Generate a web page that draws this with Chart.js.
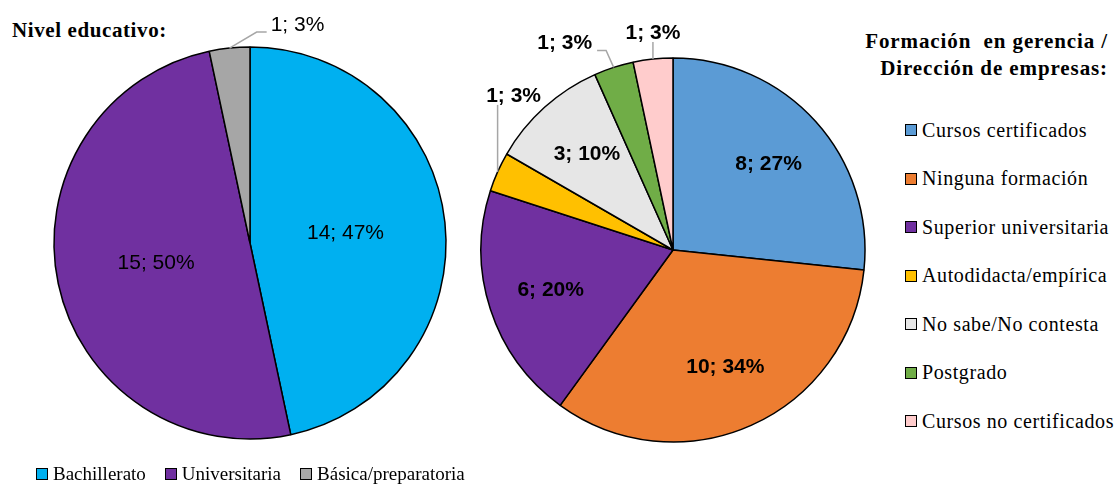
<!DOCTYPE html>
<html>
<head>
<meta charset="utf-8">
<script src="https://cdn.jsdelivr.net/npm/chart.js@4.4.1/dist/chart.umd.min.js"></script>
<style>
  html, body { margin: 0; padding: 0; background: #fff; }
  #page { position: relative; width: 1115px; height: 485px; overflow: hidden; }
  .box { position: absolute; }
  .title { position: absolute; font-family: "Liberation Serif", serif; font-weight: bold; font-size: 21px; color: #000; line-height: 27px; }
  .legend { position: absolute; font-family: "Liberation Serif", serif; color: #000; }
  .item { display: flex; align-items: center; white-space: nowrap; }
  .swatch { width: 10px; height: 10px; border: 1px solid #000; margin-right: 5px; flex: none; }
</style>
</head>
<body>
<div id="page">
  <div class="title" style="left:12px; top:17px; font-size:21px; letter-spacing:0.6px;">Nivel educativo:</div>
  <div class="title" style="right:7px; top:28px; text-align:right; letter-spacing:0.9px;">Formación&nbsp; en gerencia /<br>Dirección de empresas:</div>

  <div class="box" style="left:0; top:0; width:500px; height:486px;"><canvas id="nivel-chart"></canvas></div>
  <div class="box" style="left:473px; top:0; width:400px; height:500px;"><canvas id="formacion-chart"></canvas></div>

  <div class="legend" id="nivel-legend" style="left:36px; top:462px; font-size:19px; display:flex;"></div>
  <div class="legend" id="formacion-legend" style="left:905px; top:106px; font-size:20px; letter-spacing:0.6px;"></div>
</div>

<script>
// Nivel educativo
const nivelLabels = ['Bachillerato', 'Universitaria', 'Básica/preparatoria'];
const nivelValues = [14, 15, 1];
const nivelPercents = [47, 50, 3];
const nivelColors = ['#00B0F0', '#7030A0', '#A6A6A6'];

// Formación en gerencia / Dirección de empresas
const formacionLabels = ['Cursos certificados', 'Ninguna formación', 'Superior universitaria',
    'Autodidacta/empírica', 'No sabe/No contesta', 'Postgrado', 'Cursos no certificados'];
const formacionValues = [8, 10, 6, 1, 3, 1, 1];
const formacionPercents = [27, 34, 20, 3, 10, 3, 3];
const formacionColors = ['#5B9BD5', '#ED7D31', '#7030A0', '#FFC000', '#E6E6E6', '#70AD47', '#FFCCCC'];

/**
 * Draws "value; pct%" labels inside slices, or outside with a leader line
 */
const sliceLabels = {
    id: 'sliceLabels',
    afterDatasetsDraw(chart, args, opts) {
        const ctx = chart.ctx;
        const meta = chart.getDatasetMeta(0);
        const values = chart.data.datasets[0].data;
        ctx.save();
        ctx.font = opts.font;
        ctx.fillStyle = '#000';
        ctx.textAlign = 'center';
        ctx.textBaseline = 'middle';

        meta.data.forEach((arc, i) => {
            const p = arc.getProps(['x', 'y', 'startAngle', 'endAngle', 'outerRadius'], true);
            const mid = (p.startAngle + p.endAngle) / 2;
            const text = `${values[i]}; ${opts.percents[i]}%`;
            const callout = opts.callouts[i];

            if (!callout) {
                const d = p.outerRadius * opts.inside;
                ctx.fillText(text, p.x + Math.cos(mid) * d, p.y + Math.sin(mid) * d);
                return;
            }

            // edge point and text box
            const ex = p.x + Math.cos(mid) * p.outerRadius;
            const ey = p.y + Math.sin(mid) * p.outerRadius;
            const tx = ex + callout[0];
            const ty = ey + callout[1];
            const w = ctx.measureText(text).width;
            const bottom = ty + 7;

            ctx.strokeStyle = '#A6A6A6';
            ctx.lineWidth = 1.5;
            ctx.beginPath();
            ctx.moveTo(ex, ey);
            if (Math.abs(callout[0]) < w / 2) {
                ctx.lineTo(ex, bottom + 2);
            } else if (callout[0] > 0) {
                const ax = tx - w / 2 - 4;
                ctx.lineTo(ax - 10, bottom);
                ctx.lineTo(ax, bottom);
            } else {
                const ax = tx + w / 2 + 5;
                ctx.lineTo(ax + 9, bottom);
                ctx.lineTo(ax, bottom);
            }
            ctx.stroke();
            ctx.fillText(text, tx, ty);
        });
        ctx.restore();
    }
};

function makePie(canvasId, labels, values, colors, radius, labelOpts, padding) {
    return new Chart(document.getElementById(canvasId), {
        type: 'pie',
        data: {
            labels: labels,
            datasets: [{
                data: values,
                backgroundColor: colors,
                borderColor: '#000',
                borderWidth: 1.5,
                hoverOffset: 0
            }]
        },
        options: {
            responsive: true,
            maintainAspectRatio: false,
            animation: false,
            radius: radius,
            layout: { padding: padding },
            events: [],
            plugins: {
                legend: { display: false },
                tooltip: { enabled: false },
                sliceLabels: labelOpts
            }
        },
        plugins: [sliceLabels]
    });
}

function buildLegend(el, labels, colors, itemStyle) {
    labels.forEach((label, i) => {
        const item = document.createElement('div');
        item.className = 'item';
        Object.assign(item.style, itemStyle);
        const sw = document.createElement('span');
        sw.className = 'swatch';
        sw.style.background = colors[i];
        item.appendChild(sw);
        item.appendChild(document.createTextNode(label));
        el.appendChild(item);
    });
}

makePie('nivel-chart', nivelLabels, nivelValues, nivelColors, 196, {
    font: '21px "Liberation Sans", Arial, sans-serif',
    percents: nivelPercents,
    inside: 0.49,
    callouts: { 2: [68, -23] }
}, 0);

makePie('formacion-chart', formacionLabels, formacionValues, formacionColors, 192, {
    font: 'bold 21px "Liberation Sans", Arial, sans-serif',
    percents: formacionPercents,
    inside: 0.67,
    callouts: { 3: [16, -76], 5: [-49, -24], 6: [0, -26] }
}, 0);

buildLegend(document.getElementById('nivel-legend'), nivelLabels, nivelColors, { marginRight: '19px', height: '24px' });
buildLegend(document.getElementById('formacion-legend'), formacionLabels, formacionColors, { height: '48.5px' });
</script>
</body>
</html>
